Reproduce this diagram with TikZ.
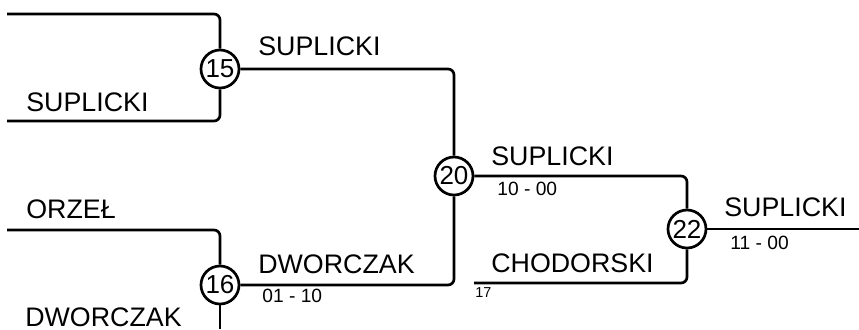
\documentclass[tikz,border=0pt]{standalone}
\usepackage{fontspec}
\setmainfont{Liberation Sans}
\tikzset{
  game/.style={circle,draw,fill=white,minimum size=19pt,inner sep=0pt,font=\fontsize{13}{13}\selectfont},
  team/.style={anchor=base west,inner sep=0pt,font=\fontsize{13.4}{13.4}\selectfont},
  score/.style={anchor=base west,inner sep=0pt,font=\fontsize{9.6}{9.6}\selectfont},
  seed/.style={anchor=base west,inner sep=0pt,font=\fontsize{7.2}{7.2}\selectfont},
  link/.style={rounded corners=3pt}
}
\begin{document}
\begin{tikzpicture}[x=0.5pt,y=-0.5pt,line width=1.35pt,line join=round]
  \useasboundingbox (0,0) rectangle (859,329);
  % games
  \node[game] (c15) at (220,69) {15};
  \node[game] (c16) at (220,285) {16};
  \node[game] (c20) at (454,176) {20};
  \node[game] (c22) at (687,229) {22};
  % free ends
  \coordinate (a15) at (7,14);
  \coordinate (b15) at (7,121);
  \coordinate (a16) at (7,230);
  \coordinate (b16) at (220,329);
  \coordinate (a17) at (474,283);
  \coordinate (end) at (859,229);
  % lines
  \draw[link] (a15) -| (c15);
  \draw[link] (b15) -| (c15);
  \draw[link] (a16) -| (c16);
  \draw (c16) -- (b16);
  \draw[link] (c15) -| (c20);
  \draw[link] (c16) -| (c20);
  \draw[link] (c20) -| (c22);
  \draw[link] (a17) -| (c22);
  \draw (c22) -- (end);
  % names and scores
  \node[team] (t15b) at (25,111) {SUPLICKI};
  \node[team] (t15) at (257,55) {SUPLICKI};
  \node[team] (torz) at (25,218) {ORZEŁ};
  \node[team] (t16b) at (24,326) {DWORCZAK};
  \node[team] (t16) at (257,273) {DWORCZAK};
  \node[score] (s16) at (261,302) {01 - 10};
  \node[team] (t20) at (490,165) {SUPLICKI};
  \node[score] (s20) at (496,195) {10 - 00};
  \node[team] (t17) at (490,272) {CHODORSKI};
  \node[seed] (n17) at (474,297) {17};
  \node[team] (t22) at (723,216) {SUPLICKI};
  \node[score] (s22) at (729,249) {11 - 00};
\end{tikzpicture}
\end{document}
